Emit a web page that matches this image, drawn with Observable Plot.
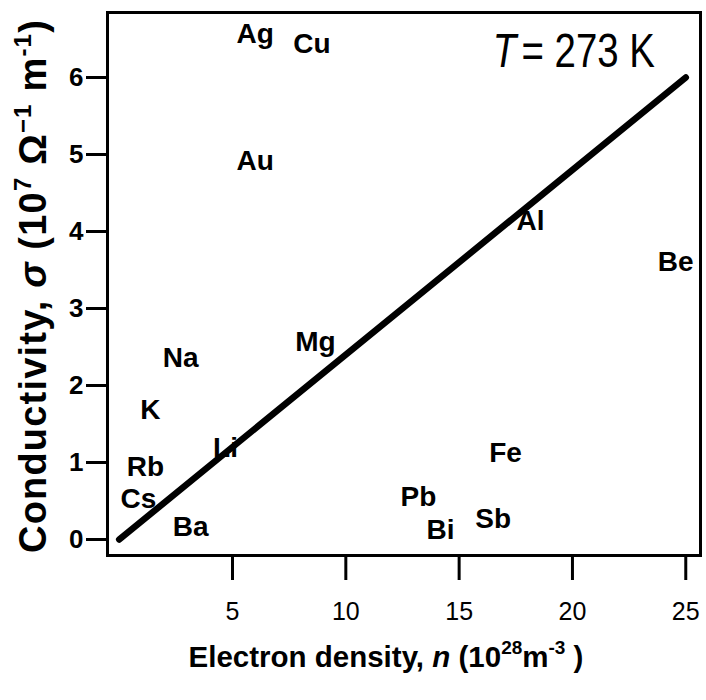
<!DOCTYPE html>
<html>
<head>
<meta charset="utf-8">
<script src="https://cdn.jsdelivr.net/npm/d3@7"></script>
<script src="https://cdn.jsdelivr.net/npm/@observablehq/plot@0.6"></script>
<style>
  html, body { margin: 0; padding: 0; background: #fff; }
  #chart svg { display: block; }
</style>
</head>
<body>
<div id="chart"></div>
<script>
// Element labels, electron density n (10^28 m^-3), conductivity sigma (10^7 ohm^-1 m^-1)
const elements     = ["Ag", "Cu", "Au", "Al", "Be", "Mg", "Na", "K", "Li", "Rb", "Cs", "Ba", "Pb", "Bi", "Sb", "Fe"];
const density      = [6.0, 8.5, 6.0, 18.15, 24.55, 8.66, 2.71, 1.38, 4.69, 1.16, 0.85, 3.15, 13.2, 14.18, 16.5, 17.05];
const conductivity = [6.56, 6.44, 4.92, 4.14, 3.6, 2.56, 2.36, 1.68, 1.19, 0.94, 0.53, 0.16, 0.55, 0.12, 0.27, 1.12];

// Free-electron trend line
const lineN     = [0, 25];
const lineSigma = [0, 6];

const xTicks = [5, 10, 15, 20, 25];
const yTicks = [0, 1, 2, 3, 4, 5, 6];

// Temperature annotation: italic symbol and value
const annSymbol = {n: 17.0, sigma: 6.34, text: "T"};
const annValue  = {n: 17.75, sigma: 6.34, text: "= 273 K"};

const points = elements.map((e, i) => ({name: e, n: density[i], sigma: conductivity[i]}));
const trend = lineN.map((n, i) => ({n, sigma: lineSigma[i]}));

const font = "'Liberation Sans', Arial, Helvetica, sans-serif";

const chart = Plot.plot({
  width: 706,
  height: 700,
  marginLeft: 107,
  marginRight: 6,
  marginTop: 12,
  marginBottom: 145,
  style: {fontFamily: font, color: "#000", background: "#fff"},
  x: {domain: [-0.516, 25.65]},
  y: {domain: [-0.208, 6.844]},
  marks: [
    Plot.frame({strokeWidth: 3}),
    Plot.axisX({ticks: xTicks, tickSize: 25, tickPadding: 22, strokeWidth: 3, label: null,
                fontSize: 25, fontWeight: "normal", tickFormat: d => String(d)}),
    Plot.axisY({ticks: yTicks, tickSize: 21, tickPadding: 3, strokeWidth: 3, label: null,
                fontSize: 26, fontWeight: "bold", tickFormat: d => String(d)}),
    Plot.line(trend, {x: "n", y: "sigma", strokeWidth: 6.5, strokeLinecap: "round", stroke: "#000"}),
    Plot.text(points, {x: "n", y: "sigma", text: "name", fontSize: 28, fontWeight: "bold", fill: "#000"}),
    Plot.text([annSymbol], {x: "n", y: "sigma", text: "text", fontSize: 48, fontStyle: "italic",
                            fill: "#000", className: "ann-sym"}),
    Plot.text([annValue], {x: "n", y: "sigma", text: "text", fontSize: 48, textAnchor: "start",
                           fill: "#000", className: "ann-val"})
  ]
});

document.getElementById("chart").appendChild(chart);

const svg = d3.select(chart);

// horizontally condense the annotation around its anchor, like the reference typeface
svg.selectAll("g.ann-sym text, g.ann-val text").each(function() {
  const el = d3.select(this);
  let x = +el.attr("x") || 0;
  let y = +el.attr("y") || 0;
  const tr = el.attr("transform");
  if (tr) {
    const m = /translate\(([-\d.e]+)[ ,]+([-\d.e]+)\)/.exec(tr);
    if (m) { x = +m[1]; y = +m[2]; }
    el.attr("transform", `translate(${x},${y}) scale(0.8,1)`);
  } else {
    el.attr("transform", `translate(${x},${y}) scale(0.8,1) translate(${-x},${-y})`);
  }
});

// X axis title
const xt = svg.append("text")
  .attr("x", 386).attr("y", 667)
  .attr("text-anchor", "middle")
  .attr("font-family", font).attr("font-size", 29.5).attr("font-weight", "bold")
  .attr("fill", "#000");
xt.append("tspan").text("Electron density, ");
xt.append("tspan").attr("font-style", "italic").text("n");
xt.append("tspan").text(" (10");
xt.append("tspan").attr("font-size", 19).attr("dy", -13).text("28");
xt.append("tspan").attr("dy", 13).text("m");
xt.append("tspan").attr("font-size", 19).attr("dy", -13).text("-3");
xt.append("tspan").attr("dy", 13).text(" )");

// Y axis title
const yt = svg.append("text")
  .attr("transform", "translate(46,286) rotate(-90)")
  .attr("text-anchor", "middle")
  .attr("font-family", font).attr("font-size", 38).attr("font-weight", "bold")
  .attr("letter-spacing", 1.2)
  .attr("fill", "#000");
yt.append("tspan").text("Conductivity, ");
yt.append("tspan").attr("font-style", "italic").text("σ");
yt.append("tspan").text(" (10");
yt.append("tspan").attr("font-size", 24).attr("dy", -15).text("7");
yt.append("tspan").attr("dy", 15).text(" Ω");
yt.append("tspan").attr("font-size", 24).attr("dy", -15).text("−1");
yt.append("tspan").attr("dy", 15).text(" m");
yt.append("tspan").attr("font-size", 24).attr("dy", -15).text("-1");
yt.append("tspan").attr("dy", 15).text(")");
</script>
</body>
</html>
